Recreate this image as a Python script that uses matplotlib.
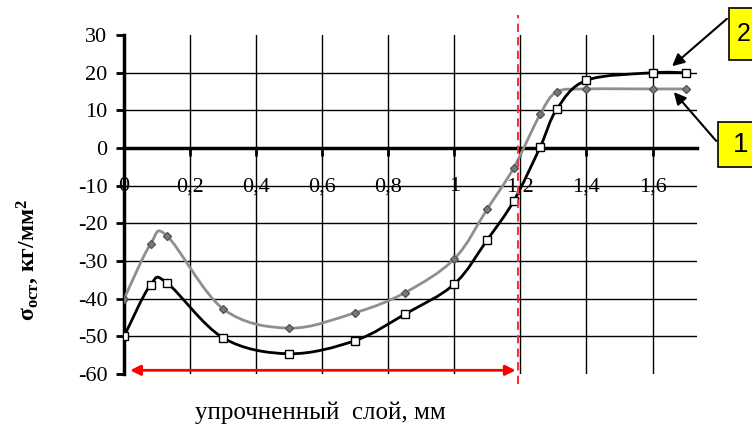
import numpy as np
import matplotlib
matplotlib.use("Agg")
import matplotlib.pyplot as plt
from matplotlib.path import Path
from matplotlib.patches import PathPatch, Rectangle

plt.rcParams['font.family'] = ['Liberation Serif', 'DejaVu Serif']
plt.rcParams['mathtext.fontset'] = 'custom'
plt.rcParams['mathtext.rm'] = 'Liberation Serif'
plt.rcParams['mathtext.it'] = 'Liberation Serif:italic'
plt.rcParams['mathtext.bf'] = 'Liberation Serif:bold'
plt.rcParams['mathtext.default'] = 'regular'
plt.rcParams['axes.unicode_minus'] = False

## data
depth = [0, 0.08, 0.13, 0.3, 0.5, 0.7, 0.85, 1.0, 1.1, 1.18, 1.26, 1.31, 1.4, 1.6, 1.7]
sigma1 = [-40, -25.5, -23.3, -42.7, -47.8, -43.7, -38.4, -29.4, -16.1, -5.2, 9.0, 14.9, 15.7, 15.7, 15.7]
sigma2 = [-50, -36.3, -35.8, -50.4, -54.6, -51.1, -44.1, -36.1, -24.3, -14.0, 0.3, 10.3, 18.0, 20.0, 20.0]
layer_end = 1.194

xticks = [0, 0.2, 0.4, 0.6, 0.8, 1.0, 1.2, 1.4, 1.6]
xlabels = ['0', '0,2', '0,4', '0,6', '0,8', '1', '1,2', '1,4', '1,6']
yticks = [-60, -50, -40, -30, -20, -10, 0, 10, 20, 30]


def smooth_path(x, y):
    ## bezier through the points, like excel "smoothed line"
    pts = np.column_stack([x, y]).astype(float)
    n = len(pts)
    verts = [pts[0]]
    codes = [Path.MOVETO]
    for i in range(n - 1):
        p0 = pts[max(i - 1, 0)]
        p1 = pts[i]
        p2 = pts[i + 1]
        p3 = pts[min(i + 2, n - 1)]
        verts += [p1 + (p2 - p0) / 6, p2 - (p3 - p1) / 6, p2]
        codes += [Path.CURVE4] * 3
    return Path(verts, codes)


fig = plt.figure(figsize=(7.52, 4.28), dpi=100)
ax = fig.add_axes([0.165, 0.126, 0.762, 0.792])
ax.set_xlim(0, 1.735)
ax.set_ylim(-60, 30)

## grid
for v in xticks[1:]:
    ax.axvline(v, color='black', lw=1, zorder=1)
for v in yticks[1:-1]:
    ax.axhline(v, color='black', lw=1, zorder=1)

## curves
ax.add_patch(PathPatch(smooth_path(depth, sigma1), fill=False, color='#8f8f8f', lw=2, zorder=3))
ax.plot(depth, sigma1, ls='none', marker='D', ms=4.5, mfc='#7a7a7a', mec='#555555', zorder=4)
ax.add_patch(PathPatch(smooth_path(depth, sigma2), fill=False, color='black', lw=2, zorder=3))
ax.plot(depth, sigma2, ls='none', marker='s', ms=6, mfc='white', mec='black', mew=1, zorder=4)

## axes
for s in ['top', 'right']:
    ax.spines[s].set_visible(False)
ax.spines['bottom'].set_position(('data', 0))
ax.spines['bottom'].set_linewidth(2.5)
ax.spines['left'].set_linewidth(2.5)
ax.set_xticks(xticks)
ax.set_xticklabels(xlabels)
ax.set_yticks(yticks)
ax.set_yticklabels([str(v) for v in yticks])
ax.tick_params(axis='x', direction='out', length=6, width=2, pad=15, labelsize=16)
ax.tick_params(axis='y', direction='out', length=6, width=2, pad=6, labelsize=16)

fig.text(320 / 752, 1 - 413 / 428, 'упрочненный  слой, мм', fontsize=18, ha='center', va='center')
fig.text(28 / 752, 1 - 260 / 428, r'σ$_{\mathbf{ост}}$, кг/мм$^{\mathbf{2}}$', rotation=90,
         fontsize=17, fontweight='bold', ha='center', va='center')

## hardened layer boundary
ax.axvline(layer_end, ymin=-0.03, ymax=1.06, color='#ff3030', ls=(0, (4, 2.5)), lw=1.5,
           clip_on=False, zorder=5)
ax.annotate('', xy=(0.01, -59), xytext=(layer_end, -59),
            arrowprops=dict(arrowstyle='<|-|>', color='red', lw=2, mutation_scale=15),
            annotation_clip=False)

## callouts
fig.add_artist(Rectangle((729 / 752, 1 - 60 / 428), 0.05, 52 / 428, transform=fig.transFigure,
                         facecolor='#ffff00', edgecolor='black', lw=1.2))
fig.text(744 / 752, 1 - 34 / 428, '2', fontsize=18, ha='center', va='center', family='Liberation Sans')
fig.add_artist(Rectangle((718 / 752, 1 - 167 / 428), 0.06, 45 / 428, transform=fig.transFigure,
                         facecolor='#ffff00', edgecolor='black', lw=1.2))
fig.text(741 / 752, 1 - 145 / 428, '1', fontsize=20, ha='center', va='center', family='Liberation Sans')
ax.annotate('', xy=(670, 428 - 68), xycoords='figure pixels', xytext=(729, 428 - 17),
            textcoords='figure pixels',
            arrowprops=dict(arrowstyle='-|>', color='black', lw=1.5, mutation_scale=18))
ax.annotate('', xy=(672, 428 - 90), xycoords='figure pixels', xytext=(718, 428 - 143),
            textcoords='figure pixels',
            arrowprops=dict(arrowstyle='-|>', color='black', lw=1.5, mutation_scale=18))

fig.savefig('out.png', dpi=100)
